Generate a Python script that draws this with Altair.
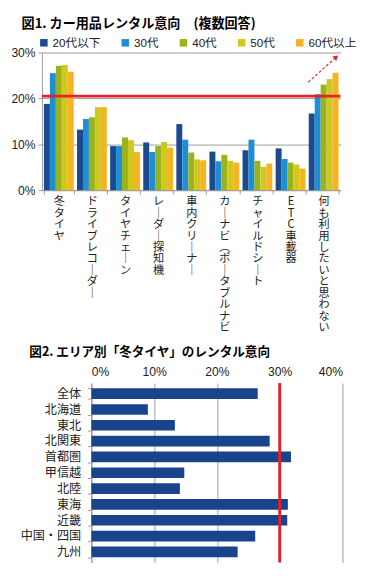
import altair as alt
import pandas as pd

title1 = "図1. カー用品レンタル意向　(複数回答)"
title2 = "図2. エリア別「冬タイヤ」のレンタル意向"

items = ["冬タイヤ", "ドライブレコーダー", "タイヤチェーン", "レーダー探知機", "車内クリーナー",
         "カーナビ(ポータブルナビ", "チャイルドシート", "ETC車載器", "何も利用したいと思わない"]
ages = ["20代以下", "30代", "40代", "50代", "60代以上"]
v20 = [18.8, 13.2, 9.6, 10.4, 14.4, 8.4, 8.7, 9.1, 16.7]
v30 = [25.5, 15.5, 9.6, 8.3, 11.0, 6.3, 11.0, 6.8, 20.9]
v40 = [27.1, 15.9, 11.5, 9.6, 8.2, 7.7, 6.4, 6.0, 23.0]
v50 = [27.3, 18.1, 10.9, 10.5, 6.7, 6.4, 5.1, 5.6, 24.2]
v60 = [25.8, 18.1, 8.3, 9.3, 6.5, 6.0, 5.8, 4.7, 25.6]
age_colors = ["#1B4A8F", "#1E8FD5", "#9AB31C", "#D0C81E", "#F6B323"]
ref1 = 20.5
arrow_from = 23.5
arrow_to = 29.0
y1_ticks = [0, 10, 20, 30]

regions = ["全体", "北海道", "東北", "北関東", "首都圏", "甲信越", "北陸", "東海", "近畿", "中国・四国", "九州"]
winter = [26.5, 9.0, 13.3, 28.4, 31.8, 14.8, 14.1, 31.3, 31.2, 26.1, 23.3]
ref2 = 30
x2_ticks = [0, 10, 20, 30, 40]

FONT = "Liberation Sans, Noto Sans CJK JP"
JFONT = "Noto Sans CJK JP"
RED = "#E8202A"
GRID = "#9A9A9A"

rows = []
for i, it in enumerate(items):
    for a, vals in zip(ages, [v20, v30, v40, v50, v60]):
        rows.append({"item": it, "age": a, "value": vals[i]})
df1 = pd.DataFrame(rows)

xscale = alt.Scale(domain=items, paddingInner=0.1, paddingOuter=0.06)
label_expr = ("split(replace(replace(datum.label, regexp('ー','g'), '｜'), '(', '︵'), '')")

bars1 = alt.Chart(df1).mark_bar().encode(
    x=alt.X("item:N", sort=items, scale=xscale, title=None,
            axis=alt.Axis(labelExpr=label_expr, labelAngle=0, labelAlign="center",
                          labelBaseline="top", labelLineHeight=11.8, labelFontSize=11.5,
                          labelFont=JFONT, labelPadding=2, tickBand="extent", tickSize=4,
                          tickColor=GRID, domainColor=GRID, grid=False, labelColor="#222")),
    xOffset=alt.XOffset("age:N", sort=ages, scale=alt.Scale(domain=ages, paddingInner=0, paddingOuter=0)),
    y=alt.Y("value:Q", scale=alt.Scale(domain=[0, 30]), title=None,
            axis=alt.Axis(values=y1_ticks, labelExpr="datum.value + '%'", tickSize=4,
                          tickColor=GRID, domainColor=GRID, gridColor=GRID, labelFontSize=12.5,
                          labelFont=FONT, labelColor="#222", minExtent=35, labelPadding=3)),
    color=alt.Color("age:N", sort=ages, scale=alt.Scale(domain=ages, range=age_colors),
                    legend=alt.Legend(title=None, orient="none", legendX=-4, legendY=-16,
                                      direction="horizontal", symbolType="square", symbolSize=60,
                                      symbolStrokeWidth=0, labelFontSize=12, labelFont=FONT,
                                      labelColor="#222", columnPadding=19, labelOffset=3)),
)

red1 = alt.Chart(pd.DataFrame({"v": [ref1]})).mark_rule(color=RED, strokeWidth=3).encode(y="v:Q")

adf = pd.DataFrame({"item": [items[-1]], "a": [arrow_from], "b": [arrow_to]})
arrow_line = alt.Chart(adf).mark_rule(color=RED, strokeWidth=1.2, strokeDash=[3, 2],
                                      xOffset=-16, x2Offset=13).encode(
    x=alt.X("item:N", sort=items), x2="item:N", y="a:Q", y2="b:Q")
arrow_head = alt.Chart(adf).mark_point(shape="triangle-up", filled=True, color=RED, opacity=1,
                                       size=35, angle=50, xOffset=13).encode(
    x=alt.X("item:N", sort=items), y="b:Q")

chart1 = alt.layer(bars1, red1, arrow_line, arrow_head).properties(
    width=308, height=142,
    title=alt.TitleParams(title1, anchor="start", frame="group", dx=-21, fontSize=13.5,
                          font=JFONT, fontWeight="bold", color="#000", offset=17),
)

# chart 2: plot area shares the left edge of chart 1; the 0% line sits 51px inside it
df2 = pd.DataFrame({"region": regions, "value": winter})
bars2 = alt.Chart(df2).mark_bar(color="#17448A").encode(
    y=alt.Y("region:N", sort=regions, title=None,
            scale=alt.Scale(paddingInner=0.33, paddingOuter=0.33),
            axis=alt.Axis(tickBand="extent", tickSize=4, tickColor=GRID, domainColor=GRID,
                          labelPadding=7, labelFontSize=12.5, labelFont=JFONT, labelColor="#222",
                          offset=-51, grid=False)),
    x=alt.X("value:Q", scale=alt.Scale(domain=[0, 40], range=[51, 310]), title=None,
            axis=alt.Axis(orient="top", values=x2_ticks, labelExpr="datum.value + '%'",
                          domain=False, ticks=False, grid=True, gridColor=GRID,
                          labelFontSize=12.5, labelFont=FONT, labelColor="#222", labelPadding=5)),
)
red2 = alt.Chart(pd.DataFrame({"v": [ref2]})).mark_rule(color=RED, strokeWidth=3).encode(x="v:Q")

chart2 = alt.layer(bars2, red2).properties(
    width=310, height=185,
    title=alt.TitleParams(title2, anchor="start", frame="group", dx=-13, fontSize=13,
                          font=JFONT, fontWeight="bold", color="#000", offset=7),
)

chart = alt.vconcat(chart1, chart2, spacing=13).properties(
    padding={"left": 0, "top": 0, "right": 0, "bottom": 0}
).configure_view(stroke=None)

chart.save("out.html", embed_options={"renderer": "svg", "actions": False})
